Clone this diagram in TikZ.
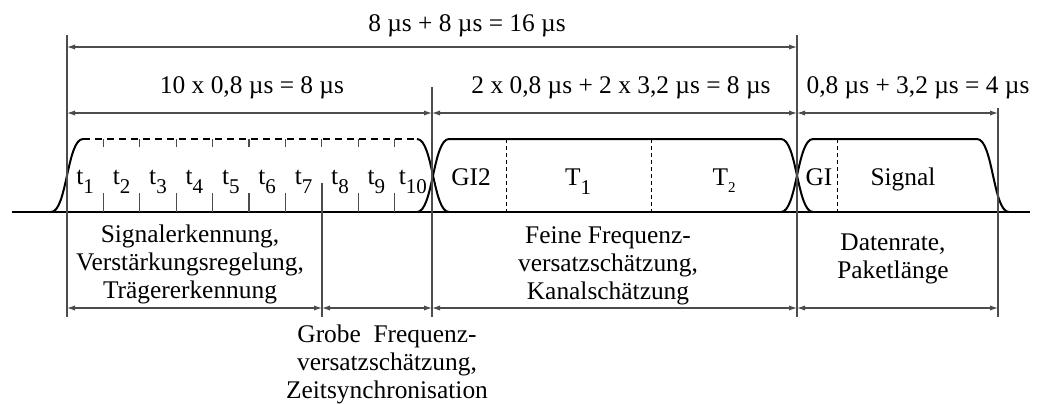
\documentclass[tikz,border=0pt]{standalone}
\usepackage{fontspec}
\setmainfont{Liberation Serif}
\usetikzlibrary{arrows.meta}
\newcommand\lowsub[2][10.5]{\raisebox{-4.5pt}{\fontsize{#1}{#1}\selectfont #2}}
\begin{document}
\begin{tikzpicture}[x=0.5pt,y=-0.5pt,
  txt/.style={font=\fontsize{12.7}{14}\selectfont, inner sep=0pt, align=center, anchor=base},
  pulse/.style={line width=1pt, black},
  pulsedash/.style={pulse, dash pattern=on 3.5pt off 2.5pt},
  sep/.style={line width=0.5pt, black, dash pattern=on 2pt off 1.5pt},
  dim/.style={line width=0.55pt, black!70},
  dimarrow/.style={dim, {Latex[length=4pt,width=2.6pt]}-{Latex[length=4pt,width=2.6pt]}}]
\useasboundingbox (0,0) rectangle (1037,403);

% baseline
\coordinate (bl) at (12,212);
\coordinate (br) at (1030,212);
\draw[pulse] (bl) -- (br);

% pulses
\draw[pulse] (51,212) .. controls (67,212) and (67,139) .. (83,139);
\draw[pulsedash] (83,139) -- (417,139);
\draw[pulse] (417,139) .. controls (433,139) and (433,212) .. (449,212);
\draw[pulse] (417,212) .. controls (433,212) and (433,139) .. (449,139) -- (781,139)
  .. controls (797,139) and (797,212) .. (813,212);
\draw[pulse] (781,212) .. controls (797,212) and (797,139) .. (813,139) -- (977,139)
  .. controls (993,139) and (993,212) .. (1009,212);

% separators in pulses 2 and 3
\foreach \x in {506,651,837}{\draw[sep] (\x,139) -- (\x,212);}

% ticks of the short symbols
\foreach \k in {1,...,9}{
  \pgfmathsetmacro\xx{67+36.4*\k}
  \draw[dim] (\xx,139) -- (\xx,147);
  \ifnum\k=7\else\draw[dim] (\xx,193) -- (\xx,212);\fi
}

% symbol labels
\foreach \k in {1,...,10}{
  \pgfmathsetmacro\xx{67+36.4*(\k-0.5)}
  \node[txt] (t\k) at (\xx,184) {t\lowsub{\k}};
}
\node[txt] (gi2) at (471,185) {GI2};
\node[txt] (T1) at (578,185) {T\lowsub{1}};
\node[txt] (T2) at (724,185) {T\raisebox{-3.5pt}{\fontsize{7.5}{8}\selectfont 2}};
\node[txt] (gi) at (819,185) {GI};
\node[txt] (sig) at (903,185) {Signal};

% vertical dimension lines
\coordinate (v1t) at (67,35);   \coordinate (v1b) at (67,317);
\coordinate (v2t) at (432,87);  \coordinate (v2b) at (432,317);
\coordinate (v3t) at (797,35);  \coordinate (v3b) at (797,317);
\coordinate (v4t) at (998,108); \coordinate (v4b) at (998,317);
\coordinate (v5t) at (322,183); \coordinate (v5b) at (322,317);
\draw[dim] (v1t) -- (v1b);
\draw[dim] (v2t) -- (v2b);
\draw[dim] (v3t) -- (v3b);
\draw[dim] (v4t) -- (v4b);
\draw[dim] (v5t) -- (v5b);

% arrow ends
\coordinate (a1) at (67,47);  \coordinate (a2) at (797,47);
\coordinate (b1) at (67,113); \coordinate (b2) at (432,113);
\coordinate (b3) at (797,113); \coordinate (b4) at (998,113);
\coordinate (c1) at (67,308); \coordinate (c2) at (322,308);
\coordinate (c3) at (432,308); \coordinate (c4) at (797,308);
\coordinate (c5) at (998,308);

\draw[dimarrow] (a1) -- (a2);
\draw[dimarrow] (b1) -- (b2);
\draw[dimarrow] (b2) -- (b3);
\draw[dimarrow] (b3) -- (b4);
\draw[dimarrow] (c1) -- (c2);
\draw[dimarrow] (c2) -- (c3);
\draw[dimarrow] (c3) -- (c4);
\draw[dimarrow] (c4) -- (c5);

% dimension texts
\node[txt] (l16) at (467,31) {8 µs + 8 µs = 16 µs};
\node[txt] (l8a) at (252,93) {10 x 0,8 µs = 8 µs};
\node[txt] (l8b) at (621,93) {2 x 0,8 µs + 2 x 3,2 µs = 8 µs};
\node[txt] (l4) at (918,93) {0,8 µs + 3,2 µs = 4 µs};

% function texts (base anchor = baseline of the last line)
\node[txt] (f1) at (190,298) {Signalerkennung,\\Verstärkungsregelung,\\Trägererkennung};
\node[txt] (f2) at (387,398) {Grobe\hspace{0.5em}Frequenz-\\versatzschätzung,\\Zeitsynchronisation};
\node[txt] (f3) at (608,299) {Feine Frequenz-\\versatzschätzung,\\Kanalschätzung};
\node[txt] (f4) at (893,278) {Datenrate,\\Paketlänge};
\end{tikzpicture}
\end{document}
